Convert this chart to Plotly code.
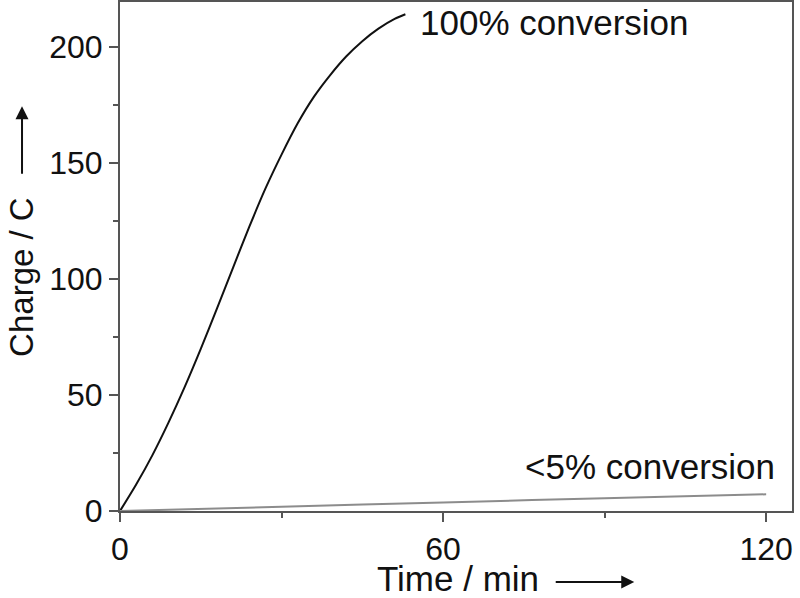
import plotly.graph_objects as go

# Charge passed vs. time
t_full = [0, 3, 6, 9, 12, 15, 18, 21, 24, 27, 30, 33, 36, 39, 42, 45, 48, 51, 53]
q_full = [0, 11.4, 24, 38.1, 53.4, 69.9, 87.3, 105, 122.5, 139, 153.7, 167.2,
          178.6, 187.9, 196, 202.6, 208, 212.2, 214.2]

t_low = [0, 30, 60, 90, 120]
q_low = [0, 1.8, 3.7, 5.5, 7.2]

x_ticks = [0, 60, 120]
y_ticks = [0, 50, 100, 150, 200]

font = "Liberation Sans, Arial, sans-serif"

fig = go.Figure()
fig.add_trace(go.Scatter(x=t_full, y=q_full, mode="lines",
                         line=dict(color="#111111", width=2, shape="spline", smoothing=0.8)))
fig.add_trace(go.Scatter(x=t_low, y=q_low, mode="lines",
                         line=dict(color="#8c8c8c", width=2, shape="spline")))

# curve labels
fig.add_annotation(x=55.4, y=210.5, text="100% conversion", showarrow=False,
                   xanchor="left", yanchor="middle", font=dict(size=35, color="#111111"))
fig.add_annotation(x=122, y=19, text="<5% conversion", showarrow=False,
                   xanchor="right", yanchor="middle", font=dict(size=35, color="#111111"))

# axis titles with arrows
fig.add_annotation(x=78.1, y=-0.132, xref="x", yref="paper", text="Time / min",
                   showarrow=False, xanchor="right", yanchor="middle",
                   font=dict(size=35, color="#111111"))
fig.add_annotation(x=95.5, y=-0.1395, xref="x", yref="paper", text="",
                   showarrow=True, ax=-80, ay=0, arrowhead=2, arrowsize=1.3,
                   arrowwidth=2, arrowcolor="#111111")
fig.add_annotation(x=-0.1458, y=0.46, xref="paper", yref="paper", text="Charge / C",
                   showarrow=False, textangle=-90, xanchor="center", yanchor="middle",
                   font=dict(size=33, color="#111111"))
fig.add_annotation(x=-0.1458, y=0.795, xref="paper", yref="paper", text="",
                   showarrow=True, ax=0, ay=69, arrowhead=2, arrowsize=1.3,
                   arrowwidth=2, arrowcolor="#111111")

fig.update_xaxes(range=[0, 124.8], tickvals=x_ticks, ticks="outside", ticklen=9,
                 tickwidth=1.5, tickcolor="#555555", automargin=False,
                 minor=dict(tickvals=[30, 90], ticks="outside", ticklen=5,
                            tickwidth=1.5, tickcolor="#555555"),
                 showline=True, linecolor="#555555", linewidth=2, mirror=True,
                 showgrid=False, zeroline=False,
                 tickfont=dict(size=32, color="#111111", family=font))
fig.update_yaxes(range=[0, 219.5], tickvals=y_ticks, ticks="outside", ticklen=9,
                 tickwidth=1.5, tickcolor="#555555", automargin=False,
                 minor=dict(tickvals=[25, 75, 125, 175], ticks="outside", ticklen=5,
                            tickwidth=1.5, tickcolor="#555555"),
                 showline=True, linecolor="#555555", linewidth=2, mirror=True,
                 showgrid=False, zeroline=False,
                 tickfont=dict(size=32, color="#111111", family=font))

fig.update_layout(width=800, height=598, showlegend=False,
                  margin=dict(l=120, r=8, t=2, b=87),
                  plot_bgcolor="white", paper_bgcolor="white",
                  font=dict(family=font, color="#111111"))

# drop the browser's default body margin so the figure sits at the page corner
fig.write_html("out.html", config={"displayModeBar": False},
               post_script="document.body.style.margin='0';document.body.style.overflow='hidden';")
